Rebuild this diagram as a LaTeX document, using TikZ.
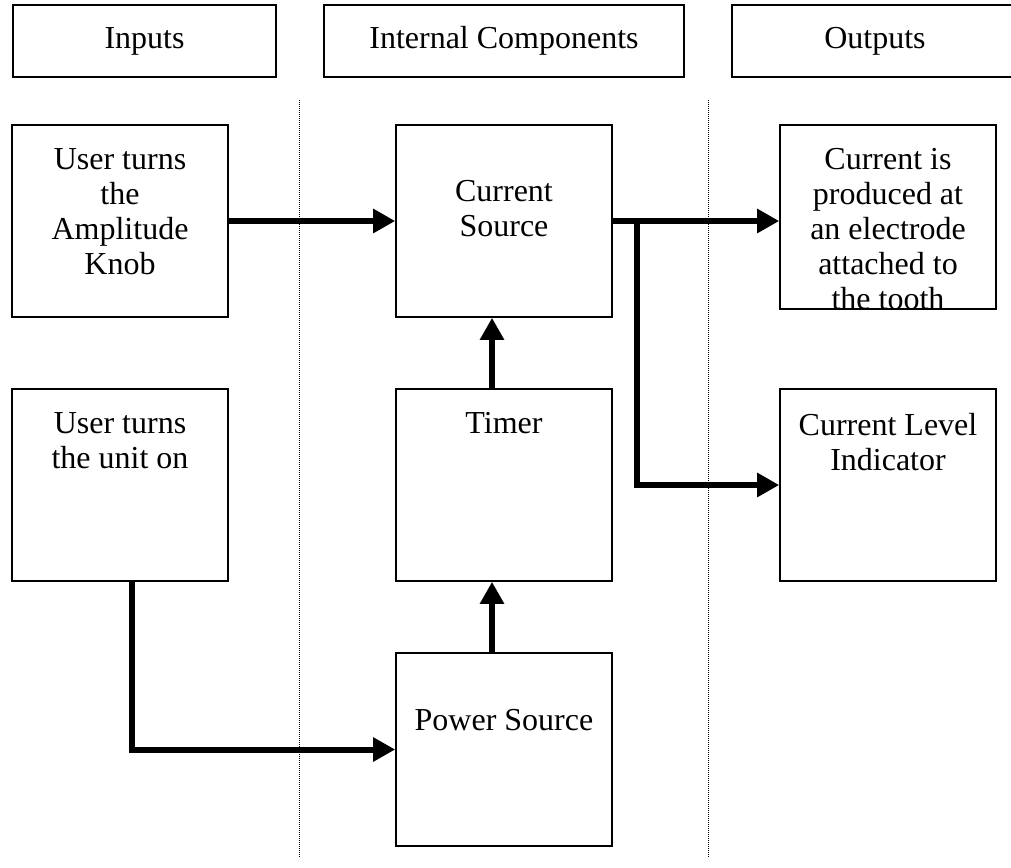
\documentclass[tikz,border=0pt]{standalone}
\usepackage{fontspec}
\setmainfont{Liberation Serif}
\usepackage{tikz}
\usetikzlibrary{arrows.meta}

\begin{document}
\begin{tikzpicture}[x=1pt,y=-1pt,
	head node/.style={rectangle, draw, line width=1.6pt, minimum width=#1, minimum height=72pt, inner sep=0pt, font=\fontsize{32}{35.5}\selectfont},
	block text/.style={anchor=north, align=center, inner sep=0pt, minimum width=0pt, minimum height=0pt, font=\fontsize{32}{35}\selectfont},
	block node/.style n args={3}{rectangle, draw, line width=1.6pt, minimum width=216pt, minimum height=192pt, inner sep=0pt,
		path picture={\node[block text] (#1) at ([yshift=-#2]path picture bounding box.north) {#3};}},
	flow/.style={line width=6pt, -{Triangle[length=22pt,width=23pt]}},
	sep line/.style={line width=1pt, dash pattern=on 1pt off 1pt}]
			\clip (0,0) rectangle (1011,867);
			% Headers
			\node[head node=263pt] (inputs) at (144.5,41) {Inputs};
			\node[head node=360pt] (internal) at (504,41) {Internal Components};
			\node[head node=286pt] (outputs) at (875,41) {Outputs};
			
			% Separators
			\draw[sep line] (299,100) -- (299,858);
			\draw[sep line] (708,100) -- (708,858);
			
			% Nodes
			\node[block node={ampt}{23pt}{User turns\\the\\Amplitude\\Knob}] (amp) at (120,221) {};
			\node[block node={usrt}{23pt}{User turns\\the unit on}] (usr) at (120,485) {};
			\node[block node={cst}{55pt}{Current\\Source}] (cs) at (504,221) {};
			\node[block node={timert}{23pt}{Timer}] (timer) at (504,485) {};
			\node[block node={powert}{56pt}{Power Source}, minimum height=193pt] (power) at (504,749.5) {};
			\node[block node={prodt}{23pt}{Current is\\produced at\\an electrode\\attached to\\the tooth}, minimum height=184pt] (prod) at (888,217) {};
			\node[block node={clit}{23pt}{Current Level\\Indicator}] (cli) at (888,485) {};
			\coordinate (split) at (637,221);
			
			% Connectors
			\draw[flow] (amp) -- (cs);
			\draw[flow] (cs.east) -- (prod.west |- cs.east);
			\draw[flow] (split) |- (cli);
			\draw[flow] ([xshift=12pt]usr.south) |- (power);
			\draw[flow] ([xshift=-12pt]power.north) -- ([xshift=-12pt]timer.south);
			\draw[flow] ([xshift=-12pt]timer.north) -- ([xshift=-12pt]cs.south);
			
\end{tikzpicture}
\end{document}
